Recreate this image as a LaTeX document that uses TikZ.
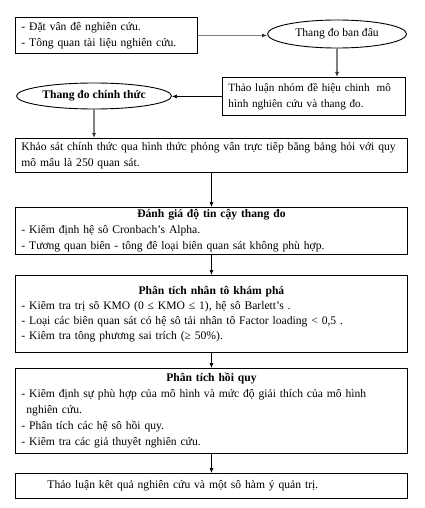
\documentclass[tikz,border=0pt]{standalone}
\usepackage{fontspec}
\setmainfont{Liberation Serif}
\usetikzlibrary{arrows.meta,shapes.geometric,positioning}

\tikzset{
	stage/.style={draw, line width=0.9pt, rectangle, anchor=north west, align=left,
		inner xsep=6pt, inner ysep=2pt, font=\fontsize{11.6}{16}\selectfont},
	wide/.style={stage, text width=380pt},
	measure/.style={draw, ellipse, line width=0.9pt, inner sep=0pt, font=\fontsize{11.6}{14}\selectfont},
	flow/.style={-{Latex[length=5pt,width=4pt]}, line width=0.6pt},
	flowgray/.style={-{Latex[length=5pt,width=4pt,color=black!80]}, draw=gray, line width=1.6pt}
}

\newcommand{\headline}[1]{\makebox[\linewidth]{\textbf{#1}}}

\begin{document}
\begin{tikzpicture}[x=1pt, y=-1pt]
	\useasboundingbox (0,0) rectangle (424,508);
	% top row
	\node [stage, text width=170pt, minimum height=36pt] (intro) at (15,17)
		{- Đặt vân đê nghiên cứu.\\- Tông quan tài liệu nghiên cứu.};
	\node [measure, minimum width=139pt, minimum height=28pt] (scale0) at (337,34) {Thang đo ban đâu};
	\node [stage, text width=171pt, minimum height=38pt, font=\fontsize{11.2}{16}\selectfont] (discuss) at (222,77)
		{Thảo luận nhóm đề hiệu chinh\hspace{7pt}mô\\hình nghiên cứu và thang đo.};
	\node [measure, minimum width=155pt, minimum height=26pt, font=\fontsize{11.6}{14}\selectfont\bfseries] (scale1) at (94,96) {Thang đo chính thức};
	% main column
	\node [wide, minimum height=34pt] (survey) at (15,138)
		{Khảo sát chính thức qua hình thức phỏng vân trực tiêp băng bảng hỏi với quy\\mô mâu là 250 quan sát.};
	\node [wide, minimum height=45pt] (reliab) at (15,207)
		{\headline{Đánh giá độ tin cậy thang đo}\\- Kiêm định hệ sô Cronbach’s Alpha.\\- Tương quan biên - tông đê loại biên quan sát không phù hợp.};
	\node [wide, minimum height=77pt, font=\fontsize{11.6}{15}\selectfont] (efa) at (15,275)
		{\headline{Phân tích nhân tô khám phá}\\- Kiêm tra trị sô KMO (0 ≤ KMO ≤ 1), hệ sô Barlett’s .\\- Loại các biên quan sát có hệ sô tải nhân tô Factor loading < 0,5 .\\- Kiêm tra tông phương sai trích (≥ 50\%).};
	\node [wide, minimum height=85pt] (regr) at (15,368)
		{\headline{Phân tích hồi quy}\\- Kiêm định sự phù hợp của mô hình và mức độ giải thích của mô hình\\\hspace*{5pt}nghiên cứu.\\- Phân tích các hệ sô hồi quy.\\- Kiêm tra các giả thuyêt nghiên cứu.};
	\node [wide, minimum height=25pt] (result) at (15,473)
		{\hspace*{26pt}Thảo luận kêt quả nghiên cứu và một sô hàm ý quản trị.};
	% connectors
	\draw [flowgray] (intro.east) -- (intro.east -| scale0.west);
	\draw [flowgray] (scale0.south) -- (scale0.south |- discuss.north);
	\draw [flow] (discuss.west) -- (discuss.west -| scale1.east);
	\draw [flowgray] (scale1.south) -- (scale1.south |- survey.north);
	\draw [flow] (survey.south) -- (reliab.north);
	\draw [flow] (reliab.south) -- (efa.north);
	\draw [flow] (efa.south) -- (regr.north);
	\draw [flow] (regr.south) -- (result.north);
\end{tikzpicture}
\end{document}
